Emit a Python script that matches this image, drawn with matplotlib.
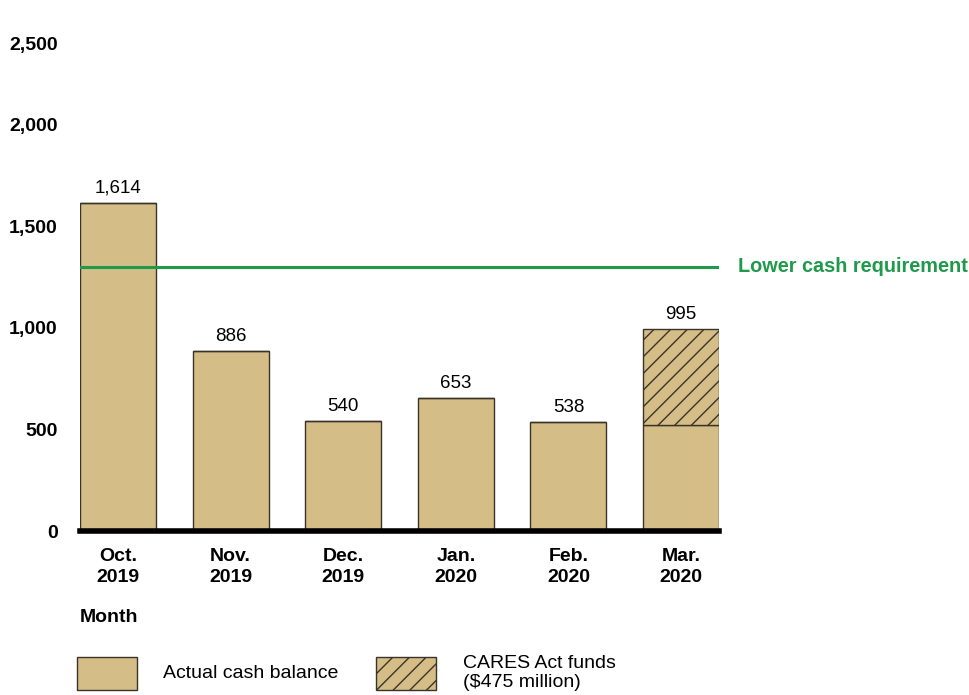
import matplotlib
matplotlib.use("Agg")
import matplotlib.pyplot as plt
import matplotlib.transforms as mtransforms
from matplotlib.patches import Rectangle
import numpy as np

plt.rcParams['font.family'] = ['Liberation Sans', 'DejaVu Sans']
plt.rcParams['hatch.linewidth'] = 1.0

months = ["Oct.\n2019", "Nov.\n2019", "Dec.\n2019", "Jan.\n2020", "Feb.\n2020", "Mar.\n2020"]
cash_balance = [1614, 886, 540, 653, 538, 520]
cares_funds = [0, 0, 0, 0, 0, 475]
totals = [1614, 886, 540, 653, 538, 995]
lower_requirement = 1300
y_ticks = [0, 500, 1000, 1500, 2000, 2500]

tan = "#D5BD87"
edge = "#3a3328"
green = "#1E9A4A"

fig = plt.figure(figsize=(9.69, 6.95), dpi=100)
ax = fig.add_axes([80 / 969, 1 - 531 / 695, 639 / 969, 508 / 695])

x = np.arange(len(months))
width = 0.675
ax.bar(x, cash_balance, width, color=tan, edgecolor=edge, linewidth=1.0, zorder=2)
ax.bar(x, cares_funds, width, bottom=cash_balance, color=tan, edgecolor=edge,
       linewidth=1.0, hatch="//", zorder=2)

for xi, t in zip(x, totals):
    ax.text(xi, t + 30, f"{t:,}", ha="center", va="bottom", fontsize=13.5)

ax.axhline(lower_requirement, color=green, linewidth=2.2, zorder=3)
ax.text(1.029, lower_requirement, "Lower cash requirement", transform=ax.get_yaxis_transform(),
        color=green, fontsize=14.3, fontweight="bold", va="center", ha="left")

ax.set_xlim(-width / 2, len(months) - 1 + width / 2)
ax.set_ylim(0, 2500)
ax.set_yticks(y_ticks)
ax.set_yticklabels([f"{v:,}" for v in y_ticks], fontsize=14, fontweight="bold")
ax.set_xticks(x)
ax.set_xticklabels(months, fontsize=14, fontweight="bold", linespacing=1.3)
ax.tick_params(axis="both", length=0)
ax.tick_params(axis="y", pad=16)
ax.tick_params(axis="x", pad=12)

# top tick label sits a bit lower in the original
top_label = ax.get_yticklabels()[-1]
top_label.set_transform(top_label.get_transform() +
                        mtransforms.ScaledTranslation(0, -0.2, fig.dpi_scale_trans))

for s in ["top", "right", "left"]:
    ax.spines[s].set_visible(False)
ax.spines["bottom"].set_linewidth(4)
ax.spines["bottom"].set_color("black")
ax.spines["bottom"].set_zorder(4)

fig.text(80 / 969, 1 - 617 / 695, "Month", fontsize=14, fontweight="bold", va="center", ha="left")

# legend
fig.patches.append(Rectangle((77 / 969, 1 - 690 / 695), 60 / 969, 33 / 695, transform=fig.transFigure,
                             facecolor=tan, edgecolor=edge, linewidth=1.0))
fig.text(163 / 969, 1 - 674 / 695, "Actual cash balance", fontsize=14, va="center", ha="left")
fig.patches.append(Rectangle((376 / 969, 1 - 690 / 695), 60 / 969, 33 / 695, transform=fig.transFigure,
                             facecolor=tan, edgecolor=edge, linewidth=1.0, hatch="//"))
fig.text(463 / 969, 1 - 673 / 695, "CARES Act funds\n($475 million)", fontsize=14, va="center",
         ha="left", linespacing=1.2)

fig.savefig("out.png", dpi=100)
